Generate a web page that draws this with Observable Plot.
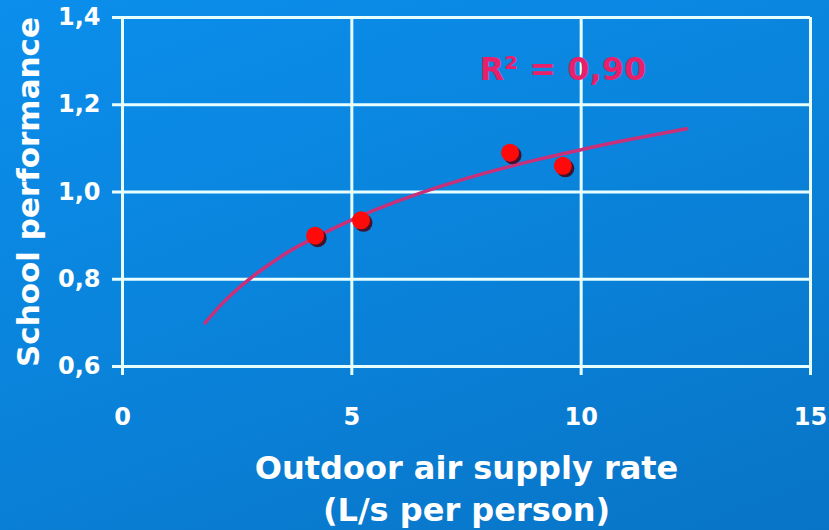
<!DOCTYPE html>
<html>
<head>
<meta charset="utf-8">
<script src="https://cdn.jsdelivr.net/npm/d3@7"></script>
<script src="https://cdn.jsdelivr.net/npm/@observablehq/plot@0.6"></script>
<style>
  html, body { margin: 0; padding: 0; }
  body {
    width: 829px; height: 530px; overflow: hidden;
    background: linear-gradient(160deg, #0b8eec 0%, #0a84dc 45%, #0874c6 100%);
  }
  #chart svg { display: block; background: transparent; }
</style>
</head>
<body>
<div id="chart"></div>
<script>
// Data
const airRate = [4.2, 5.2, 8.45, 9.6];          // L/s per person
const performance = [0.90, 0.935, 1.09, 1.06];  // school performance
// Fitted trend curve
const trendX = [1.8, 2.2, 2.6, 3.0, 3.5, 4.0, 5.0, 6.0, 7.0, 8.0, 9.0, 10.0, 11.0, 12.3];
const trendY = [0.70, 0.747, 0.786, 0.819, 0.855, 0.885, 0.936, 0.979, 1.015, 1.046, 1.073, 1.097, 1.119, 1.145];
const xTicks = [0, 5, 10, 15];
const yTicks = [0.6, 0.8, 1.0, 1.2, 1.4];
const r2Label = "R² = 0,90";
const yLabel = "School performance";
const xLabel = "Outdoor air supply rate\n(L/s per person)";

const points = airRate.map((x, i) => ({x, y: performance[i]}));
const trend = trendX.map((x, i) => ({x, y: trendY[i]}));

const grid = "#e8ffff";
const font = "DejaVu Sans, Verdana, sans-serif";

const chart = Plot.plot({
  width: 829,
  height: 530,
  marginLeft: 122,
  marginRight: 19,
  marginTop: 17,
  marginBottom: 164,
  style: {background: "transparent", fontFamily: font},
  x: {domain: [0, 15]},
  y: {domain: [0.6, 1.4]},
  marks: [
    Plot.ruleY(yTicks, {y: d => d, x1: 0, x2: 15, stroke: grid, strokeWidth: 3, insetLeft: -10}),
    Plot.ruleX(xTicks, {x: d => d, y1: 1.4, y2: 0.6, stroke: grid, strokeWidth: 3, insetBottom: -9}),
    Plot.axisY({
      ticks: yTicks, tickSize: 0, tickPadding: 22,
      tickFormat: d => d.toFixed(1).replace(".", ","),
      fill: "white", fontSize: 24, fontWeight: "bold", label: null
    }),
    Plot.axisX({
      ticks: xTicks, tickSize: 0, tickPadding: 41,
      tickFormat: d => String(d),
      fill: "white", fontSize: 24, fontWeight: "bold", label: null
    }),
    Plot.line(trend, {x: "x", y: "y", curve: "natural", stroke: "#c8307a", strokeWidth: 3.5}),
    Plot.dot(points, {x: "x", y: "y", r: 9, fill: "#4a0010", dx: 2.5, dy: 2.5, fillOpacity: 0.85}),
    Plot.dot(points, {x: "x", y: "y", r: 9, fill: "#ff0a0a"}),
    Plot.text([r2Label], {x: 9.6, y: 1.28, text: d => d, fill: "#e8206a", fontSize: 32, fontWeight: "bold"}),
    Plot.text([yLabel], {frameAnchor: "left", dx: -93, rotate: -90, textAnchor: "middle", text: d => d, fill: "white", fontSize: 31, fontWeight: "bold"}),
    Plot.text([xLabel], {frameAnchor: "bottom", dy: 83, lineAnchor: "top", text: d => d, fill: "white", fontSize: 32, fontWeight: "bold", lineHeight: 1.3})
  ]
});
document.getElementById("chart").appendChild(chart);
</script>
</body>
</html>
